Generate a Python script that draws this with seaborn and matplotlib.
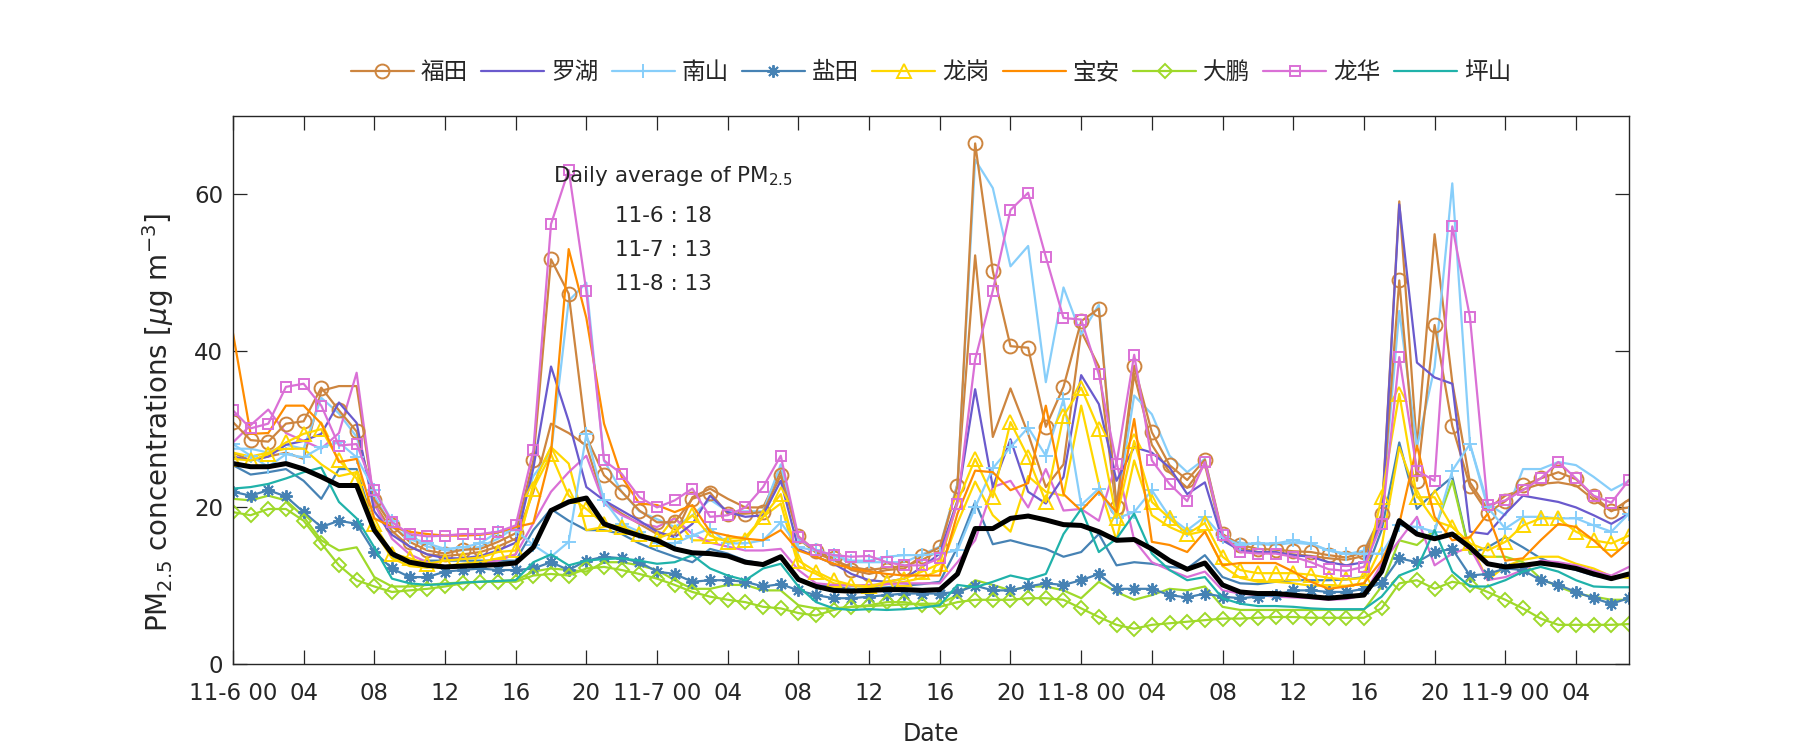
import matplotlib
matplotlib.use('Agg')
import matplotlib.pyplot as plt
import seaborn as sns
import pandas as pd

# hourly data, 11-6 00 .. 11-9 07
hours = list(range(80))
tick_pos = list(range(0, 80, 4))
tick_labels = ['11-6 00', '04', '08', '12', '16', '20', '11-7 00', '04', '08', '12',
               '16', '20', '11-8 00', '04', '08', '12', '16', '20', '11-9 00', '04']

district_names = ['福田', '罗湖', '南山', '盐田', '龙岗', '宝安', '大鹏', '龙华', '坪山']
daily_days = ['11-6', '11-7', '11-8']
daily_avg = [18, 13, 13]

mean_all = [25.6, 25.2, 25.2, 25.6, 24.9, 23.9, 22.8, 22.8, 17.1, 14.1,
            13.0, 12.6, 12.4, 12.5, 12.6, 12.7, 12.9, 14.9, 19.6, 20.7,
            21.2, 17.9, 17.1, 16.4, 15.8, 14.7, 14.2, 14.1, 13.8, 13.0,
            12.7, 13.7, 10.8, 9.9, 9.4, 9.3, 9.4, 9.5, 9.5, 9.4,
            9.5, 11.5, 17.3, 17.3, 18.6, 18.9, 18.4, 17.8, 17.7, 16.9,
            15.8, 15.9, 14.7, 13.2, 12.1, 12.9, 10.1, 9.2, 9.0, 9.0,
            8.8, 8.6, 8.4, 8.6, 8.8, 11.8, 18.3, 16.6, 16.0, 16.6,
            14.9, 12.8, 12.4, 12.6, 12.9, 12.6, 12.2, 11.5, 10.9, 11.5]

futian = [30.9, 28.6, 28.4, 30.7, 31.0, 35.3, 32.4, 29.7, 21.0, 17.7,
          15.6, 14.5, 14.1, 14.6, 14.7, 15.6, 16.7, 26.0, 51.7, 47.3,
          29.0, 24.1, 22.0, 19.6, 18.1, 18.1, 21.1, 21.9, 19.2, 19.2,
          19.4, 24.1, 16.3, 14.4, 13.5, 12.0, 11.5, 12.0, 12.2, 13.8,
          14.9, 22.7, 66.5, 50.2, 40.6, 40.4, 30.3, 35.4, 43.8, 45.4,
          20.1, 38.1, 29.6, 25.4, 23.5, 26.1, 16.6, 15.2, 14.7, 14.6,
          14.4, 14.3, 13.9, 13.6, 14.3, 19.1, 49.0, 23.4, 43.3, 30.4,
          22.7, 19.3, 20.8, 22.8, 23.7, 24.5, 23.6, 21.4, 19.6, 20.0]

futian_2 = [27.0, 26.0, 26.5, 27.0, 26.2, 34.9, 35.5, 35.5, 20.5, 17.0,
            15.0, 14.0, 13.8, 14.0, 14.3, 15.0, 16.0, 22.0, 30.7, 29.5,
            27.9, 20.7, 19.2, 17.9, 16.6, 16.4, 21.3, 22.4, 21.1, 20.0,
            20.0, 24.7, 16.0, 14.2, 13.2, 12.4, 12.0, 12.3, 12.5, 13.3,
            14.5, 23.0, 52.2, 29.0, 35.2, 29.4, 22.6, 25.5, 42.5, 38.0,
            19.5, 37.0, 28.0, 24.5, 22.5, 25.5, 16.0, 14.8, 14.3, 14.2,
            14.0, 13.8, 13.5, 13.3, 13.8, 18.5, 59.1, 27.7, 54.9, 36.0,
            23.2, 19.8, 21.5, 22.3, 23.0, 23.2, 22.8, 21.0, 19.5, 21.0]

luohu = [26.5, 26.0, 26.5, 28.0, 28.5, 29.4, 33.4, 30.8, 19.5, 16.5,
         15.0, 14.0, 13.5, 13.5, 13.8, 14.5, 15.5, 25.0, 38.0, 31.0,
         22.6, 20.9, 19.6, 18.3, 16.9, 16.2, 17.9, 21.5, 19.4, 18.8,
         19.0, 23.4, 14.7, 13.7, 12.8, 11.5, 10.7, 10.5, 10.9, 12.4,
         14.1, 20.9, 35.1, 22.6, 28.7, 22.0, 20.5, 23.9, 36.9, 33.2,
         23.4, 27.7, 27.0, 25.1, 21.7, 23.2, 15.8, 14.5, 14.3, 14.3,
         13.9, 13.7, 13.0, 12.6, 13.0, 18.3, 58.7, 38.5, 36.6, 35.8,
         16.9, 16.6, 19.2, 21.5, 21.1, 20.7, 20.0, 19.0, 17.9, 19.2]

nanshan = [28.1, 26.6, 25.2, 26.8, 26.4, 27.7, 28.3, 26.4, 22.2, 18.3,
           16.2, 15.4, 14.7, 14.9, 15.4, 16.9, 17.1, 15.2, 13.7, 15.6,
           29.4, 20.9, 17.9, 16.9, 15.4, 15.4, 16.4, 17.3, 15.4, 15.4,
           15.8, 18.1, 14.9, 14.5, 13.9, 13.2, 13.2, 13.7, 13.9, 13.9,
           14.1, 14.5, 20.0, 25.0, 27.7, 30.2, 26.6, 33.8, 20.3, 22.4,
           18.6, 19.4, 22.2, 18.8, 17.1, 18.8, 16.2, 15.2, 15.4, 15.4,
           15.8, 15.4, 14.5, 14.1, 14.1, 14.1, 17.7, 17.5, 16.9, 24.7,
           28.1, 20.0, 17.3, 18.8, 18.8, 18.6, 18.6, 17.7, 16.9, 19.2]

nanshan_2 = [27.5, 27.5, 27.0, 28.0, 27.5, 34.0, 32.0, 29.0, 21.5, 17.5,
             16.0, 15.0, 14.5, 14.5, 15.0, 16.0, 17.5, 24.0, 27.0, 46.4,
             48.7, 26.0, 22.0, 19.5, 18.5, 17.5, 19.0, 21.0, 19.5, 19.5,
             19.5, 25.5, 16.0, 14.5, 13.8, 13.0, 13.0, 13.0, 13.0, 14.0,
             15.0, 23.0, 64.4, 60.8, 50.8, 53.4, 36.0, 48.1, 42.1, 45.9,
             20.0, 34.3, 31.9, 26.6, 24.5, 26.2, 16.2, 15.5, 15.3, 15.2,
             15.5, 15.3, 14.5, 14.0, 14.5, 19.0, 45.1, 27.7, 37.9, 61.4,
             28.1, 20.5, 19.0, 24.9, 24.9, 25.8, 25.4, 23.9, 22.2, 23.4]

yantian = [22.0, 21.5, 22.2, 21.4, 19.4, 17.5, 18.3, 17.9, 14.3, 12.2,
           11.1, 11.1, 11.8, 12.0, 12.2, 12.0, 12.0, 12.2, 13.0, 12.0,
           13.2, 13.7, 13.5, 13.0, 11.8, 11.5, 10.5, 10.7, 10.7, 10.5,
           9.9, 10.2, 9.4, 8.8, 8.4, 8.4, 8.6, 8.8, 9.0, 9.0,
           9.0, 9.2, 10.0, 9.4, 9.4, 9.9, 10.3, 10.1, 10.7, 11.5,
           9.6, 9.6, 9.6, 8.8, 8.5, 9.0, 8.6, 8.4, 8.6, 8.8,
           9.4, 9.4, 9.2, 9.2, 9.6, 10.3, 13.5, 13.0, 14.3, 14.7,
           11.3, 11.5, 12.2, 12.0, 10.7, 10.1, 9.2, 8.4, 7.7, 8.4]

yantian_2 = [25.4, 24.2, 24.5, 24.9, 23.4, 21.1, 24.9, 24.9, 17.5, 13.7,
             13.0, 13.2, 13.2, 13.2, 13.2, 13.2, 13.2, 17.1, 19.8, 18.3,
             17.1, 17.1, 16.6, 15.4, 14.5, 13.7, 13.0, 14.7, 14.1, 13.2,
             12.8, 13.7, 10.7, 10.1, 9.9, 9.6, 9.6, 9.8, 10.0, 10.2,
             10.5, 14.9, 20.7, 15.3, 15.8, 15.2, 14.7, 13.7, 14.3, 16.6,
             12.6, 13.0, 12.8, 12.4, 12.2, 13.9, 11.1, 10.3, 10.2, 10.5,
             10.7, 10.7, 10.7, 10.8, 11.1, 17.1, 28.3, 19.8, 22.0, 23.9,
             14.1, 14.9, 16.2, 14.9, 13.5, 12.6, 12.0, 11.3, 10.9, 11.3]

longgang = [26.2, 26.0, 26.8, 28.3, 29.4, 30.0, 26.0, 23.7, 17.9, 14.1,
            13.5, 12.8, 13.2, 13.4, 13.6, 14.3, 14.5, 22.4, 26.8, 21.5,
            19.8, 17.9, 17.5, 16.6, 16.0, 16.9, 19.0, 16.4, 15.6, 15.9,
            18.8, 21.7, 13.2, 11.8, 10.7, 10.1, 9.9, 10.5, 10.9, 11.8,
            12.8, 20.7, 26.2, 21.3, 30.9, 26.4, 20.7, 31.7, 35.3, 30.0,
            18.7, 28.5, 20.7, 18.6, 16.6, 18.0, 13.7, 12.0, 11.6, 11.6,
            11.6, 11.4, 11.0, 10.8, 11.0, 21.3, 34.5, 21.3, 21.3, 17.5,
            15.4, 14.5, 15.6, 17.7, 18.6, 18.6, 16.9, 15.8, 15.4, 16.4]

longgang_2 = [27.0, 26.5, 27.0, 27.5, 27.5, 25.5, 24.0, 24.5, 17.0, 13.5,
              12.5, 12.3, 12.5, 12.8, 13.0, 13.5, 14.0, 23.0, 27.7, 25.6,
              17.1, 17.5, 17.7, 16.2, 15.8, 18.8, 15.8, 15.8, 16.0, 16.2,
              18.8, 20.5, 12.5, 11.5, 10.3, 10.0, 9.8, 10.2, 10.5, 11.0,
              12.0, 18.0, 23.3, 19.0, 16.9, 24.0, 22.0, 21.5, 33.0, 23.0,
              15.8, 26.0, 19.0, 17.5, 16.5, 17.0, 12.5, 11.0, 10.5, 10.5,
              10.3, 10.0, 10.0, 10.0, 10.3, 15.0, 27.7, 21.5, 18.3, 17.5,
              15.4, 10.7, 12.5, 13.3, 13.7, 13.7, 12.8, 12.2, 11.2, 11.0]

baoan = [42.3, 29.4, 29.5, 33.0, 33.0, 30.7, 25.8, 26.2, 18.6, 17.5,
         16.9, 16.6, 16.4, 16.4, 16.5, 16.8, 17.5, 18.0, 27.0, 53.0,
         44.2, 30.7, 23.9, 20.5, 20.3, 19.4, 20.3, 16.9, 16.4, 16.0,
         15.8, 17.1, 14.5, 13.7, 12.8, 12.2, 11.8, 11.5, 11.3, 11.3,
         11.3, 19.2, 24.7, 24.5, 22.2, 23.1, 33.0, 21.7, 19.6, 22.0,
         19.4, 31.3, 15.6, 15.2, 14.3, 16.9, 12.6, 12.9, 12.9, 12.9,
         11.8, 10.5, 9.6, 9.9, 10.3, 13.2, 17.9, 27.9, 18.8, 15.8,
         16.2, 19.2, 13.2, 13.5, 15.8, 17.9, 17.5, 15.8, 13.7, 15.6]

dapeng = [19.4, 19.0, 19.8, 19.8, 18.3, 15.4, 12.6, 10.7, 9.9, 9.2,
          9.4, 9.6, 9.9, 10.3, 10.5, 10.5, 10.5, 11.3, 11.5, 11.3,
          12.2, 12.4, 12.0, 11.5, 10.9, 10.1, 9.2, 8.6, 8.2, 7.9,
          7.3, 7.1, 6.5, 6.2, 6.9, 7.3, 7.5, 7.9, 7.9, 7.5,
          7.3, 7.9, 8.2, 8.2, 8.2, 8.4, 8.4, 8.2, 7.1, 6.0,
          5.0, 4.5, 5.0, 5.2, 5.4, 5.6, 5.8, 5.8, 5.9, 6.0,
          6.0, 5.9, 5.9, 5.9, 5.9, 7.1, 10.3, 10.7, 9.6, 10.5,
          10.1, 9.2, 8.2, 7.1, 5.8, 5.0, 5.0, 5.0, 5.0, 5.1]

dapeng_2 = [21.1, 20.9, 21.5, 20.9, 18.8, 15.8, 14.5, 14.9, 11.1, 9.9,
            9.9, 10.1, 10.3, 10.4, 10.5, 10.6, 10.7, 11.8, 12.2, 12.0,
            11.8, 13.0, 13.0, 12.6, 12.0, 10.7, 9.6, 9.6, 10.1, 10.1,
            9.4, 9.4, 7.5, 7.1, 7.1, 7.3, 7.4, 7.5, 7.6, 7.7,
            7.7, 8.8, 10.7, 10.1, 9.4, 9.9, 9.9, 9.4, 8.4, 10.5,
            9.2, 8.2, 8.8, 9.6, 9.4, 9.9, 7.3, 6.9, 6.9, 6.9,
            6.9, 6.9, 6.9, 6.9, 6.9, 9.9, 15.8, 15.2, 17.1, 23.4,
            14.1, 13.7, 13.7, 13.0, 10.9, 9.9, 9.0, 8.6, 8.2, 8.2]

longhua = [32.4, 30.1, 30.7, 35.4, 35.8, 33.0, 27.9, 28.1, 22.2, 18.1,
           16.6, 16.3, 16.4, 16.6, 16.6, 16.9, 17.7, 27.3, 56.2, 63.1,
           47.6, 26.0, 24.3, 21.3, 20.0, 20.9, 22.4, 18.8, 19.0, 20.0,
           22.6, 26.6, 16.2, 14.5, 13.9, 13.7, 13.8, 13.0, 12.6, 12.6,
           13.5, 20.5, 38.9, 47.7, 58.0, 60.2, 52.0, 44.2, 44.0, 37.0,
           25.6, 39.5, 26.0, 23.0, 20.8, 25.8, 16.5, 14.3, 14.1, 14.1,
           13.7, 13.0, 12.1, 11.9, 12.4, 17.9, 39.2, 24.7, 23.4, 55.9,
           44.3, 20.3, 20.9, 22.2, 23.7, 25.8, 23.7, 21.5, 20.6, 23.5]

longhua_2 = [28.3, 30.5, 32.5, 29.5, 28.5, 27.5, 29.5, 37.2, 20.5, 16.0,
             14.0, 13.0, 12.5, 12.5, 12.7, 13.2, 14.0, 18.0, 22.0, 24.5,
             26.6, 20.5, 19.0, 18.0, 17.5, 18.6, 16.6, 15.5, 15.0, 14.5,
             14.5, 14.7, 12.0, 10.3, 10.1, 10.0, 10.1, 10.2, 10.3, 10.3,
             10.3, 13.0, 15.8, 22.6, 23.4, 20.0, 24.9, 19.6, 19.8, 18.3,
             25.8, 15.8, 13.0, 12.0, 11.1, 11.8, 9.4, 9.0, 8.8, 8.6,
             8.5, 8.4, 8.2, 8.3, 8.8, 12.8, 15.8, 18.8, 12.6, 14.1,
             14.9, 10.7, 11.1, 12.0, 13.2, 13.0, 12.6, 11.9, 11.3, 12.4]

pingshan = [22.4, 22.6, 23.0, 23.7, 24.5, 25.1, 20.7, 18.6, 14.9, 10.9,
            10.3, 10.1, 10.2, 10.4, 10.5, 10.6, 10.7, 13.0, 14.0, 12.6,
            13.2, 13.4, 13.5, 13.2, 12.8, 13.0, 13.9, 12.2, 11.3, 10.7,
            12.2, 12.8, 9.9, 7.9, 7.1, 6.9, 7.0, 6.9, 7.0, 7.2,
            7.5, 10.1, 9.8, 10.5, 11.3, 10.8, 11.5, 16.6, 19.8, 14.3,
            16.0, 19.2, 14.1, 12.0, 10.7, 11.1, 8.4, 7.7, 7.4, 7.4,
            7.3, 7.1, 7.0, 7.0, 7.0, 8.6, 11.3, 12.2, 17.1, 11.8,
            9.9, 9.9, 10.7, 11.8, 12.4, 11.8, 10.7, 9.9, 9.8, 9.8]

df = pd.DataFrame({
    'hour': hours, 'mean': mean_all,
    'futian': futian, 'futian_2': futian_2, 'luohu': luohu,
    'nanshan': nanshan, 'nanshan_2': nanshan_2,
    'yantian': yantian, 'yantian_2': yantian_2,
    'longgang': longgang, 'longgang_2': longgang_2, 'baoan': baoan,
    'dapeng': dapeng, 'dapeng_2': dapeng_2,
    'longhua': longhua, 'longhua_2': longhua_2, 'pingshan': pingshan,
})

colors = {'福田': '#CD853F', '罗湖': '#6A5ACD', '南山': '#87CEFA', '盐田': '#4682B4',
          '龙岗': '#FFD700', '宝安': '#FF8C00', '大鹏': '#9FD92A', '龙华': '#DA70D6',
          '坪山': '#20B2AA'}

# (column, district, marker, marker size, in legend)
series = [
    ('futian_2', '福田', None, 0, False),
    ('nanshan_2', '南山', None, 0, False),
    ('yantian_2', '盐田', None, 0, False),
    ('longgang_2', '龙岗', None, 0, False),
    ('dapeng_2', '大鹏', None, 0, False),
    ('longhua_2', '龙华', None, 0, False),
    ('futian', '福田', 'o', 10, True),
    ('luohu', '罗湖', None, 0, True),
    ('nanshan', '南山', '+', 10, True),
    ('yantian', '盐田', (8, 2, 0), 9, True),
    ('longgang', '龙岗', '^', 10, True),
    ('baoan', '宝安', None, 0, True),
    ('dapeng', '大鹏', 'D', 7.5, True),
    ('longhua', '龙华', 's', 7, True),
    ('pingshan', '坪山', None, 0, True),
]

sns.set_style('ticks')
plt.rcParams['font.family'] = ['DejaVu Sans', 'Noto Sans CJK SC']

fig = plt.figure(figsize=(18, 7.5), dpi=100)
ax = fig.add_axes([0.1294, 0.1147, 0.7756, 0.7306])

handles = {}
for col, dist, mk, ms, in_leg in series:
    c = colors[dist]
    kw = dict(color=c, linewidth=1.6)
    if mk is not None:
        kw.update(marker=mk, markersize=ms, markerfacecolor='none',
                  markeredgecolor=c, markeredgewidth=1.4)
    sns.lineplot(data=df, x='hour', y=col, ax=ax, **kw)
    if in_leg:
        handles[dist] = ax.lines[-1]

sns.lineplot(data=df, x='hour', y='mean', ax=ax, color='black', linewidth=3.6)

ax.set_xlim(0, 79)
ax.set_ylim(0, 70)
ax.set_xticks(tick_pos)
ax.set_xticklabels(tick_labels)
ax.set_yticks([0, 20, 40, 60])
ax.tick_params(direction='in', length=10, width=0.9, top=True, right=True,
               labelsize=16.5, colors='#262626')
ax.tick_params(axis='x', pad=13)
ax.tick_params(axis='y', pad=7)
for s in ax.spines.values():
    s.set_color('#262626')
    s.set_linewidth(1.0)

ax.set_xlabel('Date', fontsize=17, color='#262626', labelpad=12)
ax.set_ylabel(r'PM$_{2.5}$ concentrations [$\mu$g m$^{-3}$]', fontsize=20, color='#262626')
ax.yaxis.set_label_coords(-0.041, 0.44)

ax.text(0.229, 0.89, r'Daily average of PM$_{2.5}$', transform=ax.transAxes,
        fontsize=15.5, va='center', ha='left')
for i, (d, v) in enumerate(zip(daily_days, daily_avg)):
    ax.text(0.274, 0.818 - i * 0.062, f'{d} : {v}', transform=ax.transAxes,
            fontsize=15.5, va='center', ha='left')

ax.legend([handles[n] for n in district_names], district_names, loc='center',
          bbox_to_anchor=(0.5, 1.08), ncol=9, frameon=False, fontsize=17,
          handlelength=2.67, handletextpad=0.3, columnspacing=0.55, numpoints=1)

fig.savefig('out.png', dpi=100)
